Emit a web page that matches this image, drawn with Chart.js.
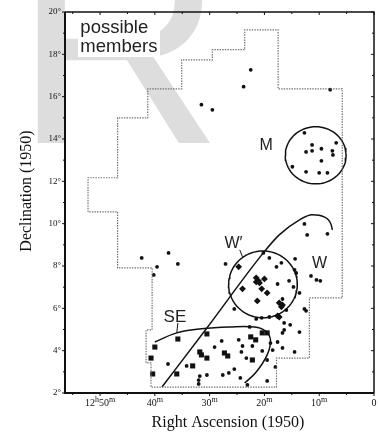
<!DOCTYPE html>
<html>
<head>
<meta charset="utf-8">
<script src="https://cdn.jsdelivr.net/npm/chart.js@4.4.0/dist/chart.umd.min.js"></script>
<style>
  html, body { margin: 0; padding: 0; background: #fff; }
  #wrap { width: 378px; height: 437px; }
</style>
</head>
<body>
<div id="wrap"><canvas id="memberChart" width="378" height="437"></canvas></div>
<script>
// RA in minutes after 12h (axis runs right to left), Dec in degrees (1950)

// survey boundary (dotted outline)
var boundaryRa  = [52.2, 52.2, 46.8, 46.8, 41.3, 41.3, 35.1, 35.1, 29.5, 29.5, 23.6, 23.6, 17.5, 17.5, 5.8, 5.8, 11.8, 11.8, 17.8, 17.8, 40.7, 40.7, 41.6, 41.6, 40.5, 40.5, 46.8, 46.8, 52.2];
var boundaryDec = [10.56, 12.17, 12.17, 15.0, 15.0, 16.37, 16.37, 17.74, 17.74, 18.22, 18.22, 19.16, 19.16, 16.37, 16.37, 6.49, 6.49, 3.65, 3.65, 2.28, 2.28, 3.42, 3.42, 4.98, 4.98, 7.91, 7.91, 10.56, 10.56];

// possible members (small dots)
var dotRa  = [22.5, 23.8, 31.5, 29.5, 8.0,
              12.7, 11.3, 11.3, 12.4, 9.6, 7.6, 6.9, 7.5, 9.6, 14.9, 12.4, 10.0, 8.5,
              42.4, 37.5, 35.8, 39.6, 40.2, 27.1,
              12.7, 12.2, 8.5, 14.4, 11.5, 10.5, 9.8,
              20.2, 19.1, 16.9, 17.8, 14.5, 14.2, 17.6, 15.5, 14.7, 13.6, 16.7, 16.0, 25.5, 12.7, 12.4,
              21.5, 20.5, 19.1, 16.4, 22.7, 15.3, 16.7, 16.4, 13.6,
              27.8, 24.7, 29.1, 24.0, 22.2, 18.9, 17.6, 18.5, 16.7, 14.5, 23.3, 19.5, 18.0, 24.2, 20.4,
              37.6, 34.2, 31.8, 32.0, 32.0, 30.5, 27.6, 26.5, 25.5, 24.4, 19.5, 23.1];
var dotDec = [17.27, 16.47, 15.62, 15.38, 16.33,
              14.29, 13.72, 13.44, 13.39, 13.54, 13.44, 13.82, 13.25, 12.97, 12.69, 12.45, 12.40, 12.40,
              8.38, 8.62, 8.10, 7.96, 7.58, 8.10,
              9.99, 9.47, 9.52, 8.34, 7.53, 7.34, 7.30,
              8.62, 8.38, 8.15, 7.96, 7.82, 7.67, 7.15, 7.30, 7.01, 6.73, 6.44, 5.92, 5.97, 5.97, 5.88,
              5.50, 5.55, 5.59, 5.31, 5.12, 5.22, 4.84, 4.98, 4.88,
              4.46, 4.51, 4.17, 4.22, 4.22, 4.36, 4.41, 4.03, 4.13, 3.94, 3.65, 3.56, 3.23, 3.94, 3.99,
              3.37, 3.28, 2.80, 2.61, 2.43, 2.85, 2.85, 2.95, 3.13, 2.71, 2.57, 2.38];

// SE group (squares)
var seRa  = [35.8, 30.5, 40.0, 40.7, 31.8, 31.5, 30.5, 33.1, 40.4, 36.0, 22.5, 21.6, 20.4, 19.5, 27.3, 26.7, 22.2];
var seDec = [4.55, 4.79, 4.17, 3.65, 3.94, 3.80, 3.65, 3.28, 2.90, 2.90, 4.65, 4.51, 4.84, 4.84, 3.89, 3.75, 3.56];

// W' group (diamonds)
var wpRa  = [24.7, 21.5, 21.1, 21.5, 20.0, 20.9, 24.0, 20.5, 19.5, 21.3, 17.3, 16.7, 16.9, 17.6, 17.3];
var wpDec = [7.96, 7.44, 7.30, 7.25, 7.39, 7.20, 6.92, 6.92, 6.73, 6.35, 6.26, 6.16, 6.07, 5.64, 5.59];

// outlined regions
var wCurveRa  = [38.7, 30.5, 20.2, 17.3, 13.6, 11.3, 9.1, 7.8, 7.6];
var wCurveDec = [2.28, 5.07, 8.62, 9.47, 10.18, 10.42, 10.32, 9.94, 9.71];
var seCurveRa  = [40.0, 36.0, 31.5, 26.4, 21.8, 19.8, 18.9, 19.5, 21.5, 23.6];
var seCurveDec = [4.41, 4.84, 5.03, 5.12, 5.12, 4.93, 4.51, 3.80, 2.99, 2.47];
var mCircle  = { ra: 10.64, dec: 13.23, rRa: 5.55, rDec: 1.35 };
var wpCircle = { ra: 20.27, dec: 7.13, rRa: 6.27, rDec: 1.58 };

// axes
var xMin = 0, xMax = 56.4;
var yMin = 2, yMax = 20;
var xTickAll = [55, 50, 45, 40, 35, 30, 25, 20, 15, 10, 5, 0];
var xTickValues = [50, 40, 30, 20, 10, 0];
var xTickLabels = ['12^h50^m', '40^m', '30^m', '20^m', '10^m', '0'];
var yTickAll = [2, 3, 4, 5, 6, 7, 8, 9, 10, 11, 12, 13, 14, 15, 16, 17, 18, 19, 20];
var yTickValues = [2, 4, 6, 8, 10, 12, 14, 16, 18, 20];
var yTickLabels = ['2°', '4°', '6°', '8°', '10°', '12°', '14°', '16°', '18°', '20°'];

function zip(ra, dec) {
  return ra.map(function (r, i) { return { x: r, y: dec[i] }; });
}
function ellipse(c) {
  var pts = [];
  for (var i = 0; i <= 72; i++) {
    var a = i / 72 * 2 * Math.PI;
    pts.push({ x: c.ra + c.rRa * Math.cos(a), y: c.dec + c.rDec * Math.sin(a) });
  }
  return pts;
}

// text drawn on the plot, placed in data coordinates
var notes = [
  { text: 'possible', ra: 53.6, dec: 19.02, size: 18.5 },
  { text: 'members', ra: 53.6, dec: 18.12, size: 18.5 },
  { text: 'M', ra: 20.9, dec: 13.49, size: 16 },
  { text: 'W′', ra: 27.3, dec: 8.86, size: 16 },
  { text: 'W', ra: 11.3, dec: 7.91, size: 16 },
  { text: 'SE', ra: 38.4, dec: 5.36, size: 17 }
];

function drawSup(ctx, str, cx, baseY, size) {
  var parts = [];
  for (var i = 0; i < str.length; i++) {
    if (str[i] === '^') { parts.push({ t: str[i + 1], sup: true }); i++; }
    else parts.push({ t: str[i], sup: false });
  }
  var total = 0;
  parts.forEach(function (p) {
    ctx.font = (p.sup ? size * 0.8 : size) + 'px "Liberation Serif"';
    p.w = ctx.measureText(p.t).width;
    total += p.w;
  });
  var x = cx - total / 2;
  parts.forEach(function (p) {
    ctx.font = (p.sup ? size * 0.8 : size) + 'px "Liberation Serif"';
    ctx.fillText(p.t, x, p.sup ? baseY - 4 : baseY);
    x += p.w;
  });
}

var decorate = {
  id: 'decorate',
  beforeDraw: function (chart) {
    var ctx = chart.ctx;
    ctx.save();
    ctx.fillStyle = '#fff';
    ctx.fillRect(0, 0, chart.width, chart.height);
    // faint watermark letter behind the figure
    ctx.fillStyle = '#dddddd';
    ctx.font = '290px "Liberation Sans"';
    ctx.textBaseline = 'alphabetic';
    ctx.fillText('R', 14, 143);
    ctx.restore();
  },
  afterDatasetsDraw: function (chart) {
    var ctx = chart.ctx, a = chart.chartArea;
    var xs = chart.scales.x, ys = chart.scales.y;
    ctx.save();
    ctx.strokeStyle = '#111';
    ctx.fillStyle = '#111';

    // frame
    ctx.lineWidth = 1.5;
    ctx.beginPath();
    ctx.moveTo(a.left, a.top); ctx.lineTo(a.right, a.top); ctx.lineTo(a.right, a.bottom);
    ctx.stroke();
    ctx.lineWidth = 2;
    ctx.beginPath();
    ctx.moveTo(a.left, a.top); ctx.lineTo(a.left, a.bottom); ctx.lineTo(a.right, a.bottom);
    ctx.stroke();

    // tick marks
    ctx.lineWidth = 1;
    yTickAll.forEach(function (v) {
      var p = ys.getPixelForValue(v);
      var len = v % 2 === 0 ? 3 : 2;
      ctx.beginPath();
      ctx.moveTo(a.left - len, p); ctx.lineTo(a.left, p);
      ctx.moveTo(a.right - len, p); ctx.lineTo(a.right, p);
      ctx.stroke();
    });
    xTickAll.forEach(function (v) {
      var p = xs.getPixelForValue(v);
      var len = v % 10 === 0 ? 3 : 2;
      ctx.beginPath();
      ctx.moveTo(p, a.bottom); ctx.lineTo(p, a.bottom + len);
      ctx.moveTo(p, a.top); ctx.lineTo(p, a.top + len);
      ctx.stroke();
    });

    // tick labels
    ctx.textAlign = 'right';
    ctx.textBaseline = 'middle';
    ctx.font = '9px "Liberation Serif"';
    yTickValues.forEach(function (v, i) {
      ctx.fillText(yTickLabels[i], a.left - 4, ys.getPixelForValue(v));
    });
    ctx.textAlign = 'left';
    ctx.textBaseline = 'alphabetic';
    xTickValues.forEach(function (v, i) {
      drawSup(ctx, xTickLabels[i], xs.getPixelForValue(v), a.bottom + 13, 10);
    });

    // axis titles
    ctx.font = '16px "Liberation Serif"';
    ctx.textAlign = 'center';
    ctx.fillText('Right Ascension (1950)', 228, 427);
    ctx.save();
    ctx.translate(27, 191);
    ctx.rotate(-Math.PI / 2);
    ctx.textBaseline = 'middle';
    ctx.fillText('Declination (1950)', 0, 0);
    ctx.restore();

    // labels inside the plot
    ctx.fillStyle = '#fff';
    ctx.fillRect(78, 17, 82, 40);
    ctx.fillStyle = '#222';
    ctx.textAlign = 'left';
    ctx.textBaseline = 'alphabetic';
    notes.forEach(function (n) {
      ctx.font = n.size + 'px "Liberation Sans"';
      ctx.fillText(n.text, xs.getPixelForValue(n.ra), ys.getPixelForValue(n.dec));
    });
    ctx.restore();
  }
};

var lineStyle = { showLine: true, pointRadius: 0, borderColor: '#111', borderWidth: 1.5, fill: false };

new Chart(document.getElementById('memberChart'), {
  type: 'scatter',
  data: {
    datasets: [
      Object.assign({}, lineStyle, { label: 'boundary', data: zip(boundaryRa, boundaryDec), borderColor: '#6e6e6e', borderWidth: 1.2, borderDash: [1.4, 1.2], tension: 0 }),
      Object.assign({}, lineStyle, { label: 'M', data: ellipse(mCircle) }),
      Object.assign({}, lineStyle, { label: "W'", data: ellipse(wpCircle) }),
      Object.assign({}, lineStyle, { label: 'W', data: zip(wCurveRa, wCurveDec), cubicInterpolationMode: 'monotone' }),
      Object.assign({}, lineStyle, { label: 'SE', data: zip(seCurveRa, seCurveDec), tension: 0.4 }),
      Object.assign({}, lineStyle, { label: 'lead1', data: zip([24.5, 24.0], [8.76, 8.43]), borderWidth: 1 }),
      Object.assign({}, lineStyle, { label: 'lead2', data: zip([35.8, 36.0], [5.31, 4.84]), borderWidth: 1 }),
      { label: 'dots', data: zip(dotRa, dotDec), pointRadius: 1.9, pointStyle: 'circle', backgroundColor: '#111', borderWidth: 0 },
      { label: 'SE members', data: zip(seRa, seDec), pointRadius: 3.6, pointStyle: 'rect', backgroundColor: '#111', borderWidth: 0 },
      { label: "W' members", data: zip(wpRa, wpDec), pointRadius: 3.4, pointStyle: 'rectRot', backgroundColor: '#111', borderWidth: 0 }
    ]
  },
  options: {
    responsive: false,
    devicePixelRatio: 1,
    animation: false,
    events: [],
    layout: { padding: { top: 12, right: 3, left: 0, bottom: 0 } },
    plugins: { legend: { display: false }, tooltip: { enabled: false } },
    scales: {
      x: {
        type: 'linear', reverse: true, min: xMin, max: xMax,
        grid: { display: false }, border: { display: false },
        ticks: { display: false },
        afterFit: function (s) { s.height = 44; }
      },
      y: {
        type: 'linear', min: yMin, max: yMax,
        grid: { display: false }, border: { display: false },
        ticks: { display: false },
        afterFit: function (s) { s.width = 65; }
      }
    }
  },
  plugins: [decorate]
});
</script>
</body>
</html>
